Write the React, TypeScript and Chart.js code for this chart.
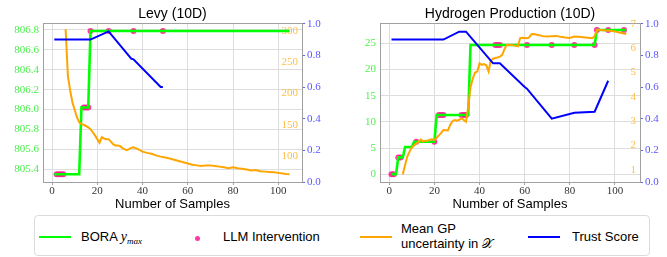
import React, { useEffect, useRef } from 'react';
import { Chart, registerables } from 'chart.js';

Chart.register(...registerables);

// ---------- Shared ----------
const sampleTicks = [0, 20, 40, 60, 80, 100];
const trustTicks = [0, 0.2, 0.4, 0.6, 0.8, 1.0];

// ---------- Levy (10D) ----------
const levyBestX = [1, 12, 13, 16, 17, 105];
const levyBestY = [805.35, 805.35, 806.02, 806.02, 806.79, 806.79];
const levyLlmX = [2, 3, 4, 5, 14, 15, 16, 17, 25, 36, 49];
const levyLlmY = [805.35, 805.35, 805.35, 805.35, 806.02, 806.02, 806.02, 806.79, 806.79, 806.79, 806.79];
const levyUncX = [6, 7, 8, 9, 10, 11, 12, 13, 14, 15, 16, 17, 18, 19, 20, 21, 22, 23, 24, 25, 26, 27, 28, 29, 30, 31, 32, 33, 34, 35, 36, 38, 40, 42, 44, 46, 48, 50, 52, 54, 56, 58, 60, 62, 64, 66, 68, 70, 72, 74, 76, 78, 80, 82, 84, 86, 88, 90, 92, 94, 96, 98, 100, 102, 104, 105];
const levyUncY = [303, 228, 205, 186, 174, 162, 154, 151, 150, 148, 146, 143, 138, 133, 127, 121, 130, 128, 127, 127, 123, 119, 117, 117, 116, 113, 111, 109.5, 111, 113, 114, 111, 107, 105, 103.5, 101, 99, 97.5, 96, 94, 92, 90, 88, 86, 85, 84, 85, 85, 84, 83, 82, 80.5, 82, 80.5, 79.5, 78.5, 77, 77.5, 75.5, 75, 74.5, 74, 73, 72, 71, 70.7];
const levyTrustX = [1, 17, 25, 35, 36, 48, 49];
const levyTrustY = [0.9, 0.9, 0.952, 0.78, 0.775, 0.6, 0.6];
const levyBestTicks = [805.4, 805.6, 805.8, 806.0, 806.2, 806.4, 806.6, 806.8];
const levyUncTicks = [100, 150, 200, 250, 300];

// ---------- Hydrogen Production (10D) ----------
const h2BestX = [1, 3, 4, 6, 7, 10, 11, 20, 21, 35, 36, 91, 92, 105];
const h2BestY = [0, 0, 3.2, 3.2, 5.2, 5.2, 6.2, 6.2, 11.3, 11.3, 24.7, 24.7, 27.55, 27.55];
const h2LlmX = [1, 2, 4, 5, 12, 20, 22, 23, 24, 32, 33, 34, 47, 48, 49, 61, 72, 82, 91, 92, 97, 104];
const h2LlmY = [0, 0, 3.2, 3.2, 6.2, 6.2, 11.3, 11.3, 11.3, 11.3, 11.3, 11.3, 24.7, 24.7, 24.7, 24.7, 24.7, 24.7, 24.7, 27.55, 27.55, 27.55];
const h2UncX = [6, 7, 8, 9, 10, 11, 12, 13, 14, 15, 16, 17, 18, 19, 20, 21, 22, 23, 24, 25, 26, 27, 28, 29, 30, 31, 32, 33, 34, 35, 36, 37, 38, 39, 40, 41, 42, 43, 44, 45, 46, 47, 48, 49, 50, 51, 52, 53, 54, 55, 56, 57, 58, 59, 60, 61, 62, 63, 64, 66, 68, 70, 72, 74, 76, 78, 80, 82, 84, 86, 88, 90, 91, 92, 94, 96, 98, 100, 102, 104, 105];
const h2UncY = [0.82, 1.2, 1.55, 1.75, 1.92, 2.0, 2.08, 2.15, 2.25, 2.16, 2.2, 2.2, 2.24, 2.26, 2.23, 2.32, 2.42, 2.52, 2.64, 2.63, 2.62, 2.85, 3.0, 3.05, 3.02, 3.06, 3.12, 3.05, 2.98, 3.6, 4.4, 4.75, 5.0, 5.04, 5.38, 5.32, 5.35, 5.3, 5.05, 5.5, 5.57, 5.6, 5.62, 5.66, 5.72, 5.95, 6.14, 6.14, 6.14, 6.12, 6.1, 6.08, 6.42, 6.43, 6.42, 6.41, 6.45, 6.58, 6.59, 6.55, 6.5, 6.48, 6.5, 6.51, 6.47, 6.44, 6.42, 6.48, 6.47, 6.45, 6.43, 6.41, 6.5, 6.75, 6.75, 6.73, 6.72, 6.69, 6.65, 6.61, 6.59];
const h2TrustX = [1, 24, 31, 34, 46, 49, 60, 61, 72, 82, 91, 97];
const h2TrustY = [0.9, 0.9, 0.95, 0.95, 0.75, 0.75, 0.6, 0.59, 0.4, 0.437, 0.444, 0.64];
const h2BestTicks = [0, 5, 10, 15, 20, 25];
const h2UncTicks = [1, 2, 3, 4, 5, 6, 7];

const GREEN = '#00ff00';
const ORANGE = '#ffa500';
const BLUE = '#0000ff';
const PINK = 'rgba(255,20,147,0.85)';
const SPINE = '#a0a0a0';
const GRID = '#dddddd';
const SERIF = "'Liberation Serif', 'DejaVu Serif', serif";
const SANS = "'Liberation Sans', 'DejaVu Sans', sans-serif";

const zip = (xs: number[], ys: number[]) => xs.map((x, i) => ({ x, y: ys[i] }));

type Panel = {
  title: string;
  width: number;
  leftW: number;
  rightW: number;
  xMin: number;
  xMax: number;
  bestX: number[]; bestY: number[];
  llmX: number[]; llmY: number[];
  uncX: number[]; uncY: number[];
  trustX: number[]; trustY: number[];
  bestMin: number; bestMax: number; bestTicks: number[]; bestDec: number;
  uncMin: number; uncMax: number; uncTicks: number[];
};

const setTicks = (vals: number[]) => (scale: any) => {
  scale.ticks = vals.map((v) => ({ value: v }));
};

function makeConfig(p: Panel): any {
  const tickFont = { family: SERIF, size: 11 };
  return {
    type: 'line',
    data: {
      datasets: [
        {
          label: 'Trust Score', data: zip(p.trustX, p.trustY), yAxisID: 'y2',
          borderColor: BLUE, borderWidth: 2, pointRadius: 0, tension: 0, order: 0,
        },
        {
          label: 'Mean GP uncertainty', data: zip(p.uncX, p.uncY), yAxisID: 'y1',
          borderColor: ORANGE, borderWidth: 2, pointRadius: 0, tension: 0, order: 1,
        },
        {
          label: 'BORA ymax', data: zip(p.bestX, p.bestY), yAxisID: 'y',
          borderColor: GREEN, borderWidth: 2.6, pointRadius: 0, tension: 0, order: 2,
        },
        {
          label: 'LLM Intervention', data: zip(p.llmX, p.llmY), yAxisID: 'y',
          showLine: false, pointRadius: 3, pointBackgroundColor: PINK, pointBorderWidth: 0,
          borderColor: PINK, order: 3,
        },
      ],
    },
    options: {
      animation: false,
      responsive: false,
      maintainAspectRatio: false,
      events: [],
      layout: { padding: 0 },
      plugins: {
        legend: { display: false },
        tooltip: { enabled: false },
        title: {
          display: true, text: p.title, fullSize: false, color: '#000',
          font: { family: SANS, size: 14, weight: 'normal' },
          padding: { top: 6.2, bottom: 0 },
        },
      },
      scales: {
        x: {
          type: 'linear', position: 'bottom', min: p.xMin, max: p.xMax,
          afterBuildTicks: setTicks(sampleTicks),
          afterFit: (s: any) => { s.height = 30; },
          grid: { color: GRID, tickColor: SPINE, tickLength: 3, drawTicks: true },
          border: { color: SPINE, width: 1 },
          ticks: { font: tickFont, color: '#333', padding: 0, maxRotation: 0, callback: (v: any) => String(v) },
          title: {
            display: true, text: 'Number of Samples', color: '#000',
            font: { family: SANS, size: 13 }, padding: { top: 0, bottom: 0 },
          },
        },
        xTop: {
          type: 'linear', position: 'top', min: 0, max: 1,
          afterFit: (s: any) => { s.height = 0; },
          grid: { display: true, drawOnChartArea: false, drawTicks: false },
          border: { color: SPINE, width: 1 },
          ticks: { display: false },
        },
        y: {
          type: 'linear', position: 'left', min: p.bestMin, max: p.bestMax,
          afterBuildTicks: setTicks(p.bestTicks),
          afterFit: (s: any) => { s.width = p.leftW; },
          grid: { color: GRID, drawTicks: false },
          border: { color: SPINE, width: 1 },
          ticks: { font: tickFont, color: '#4cf04c', padding: 4, callback: (v: any) => Number(v).toFixed(p.bestDec) },
        },
        y1: {
          type: 'linear', position: 'right', weight: 0, min: p.uncMin, max: p.uncMax,
          afterBuildTicks: setTicks(p.uncTicks),
          afterFit: (s: any) => { s.width = 0; },
          grid: { display: false },
          border: { display: false },
          ticks: { font: tickFont, color: '#ffbd45', mirror: true, padding: -4, callback: (v: any) => String(v) },
        },
        y2: {
          type: 'linear', position: 'right', weight: 1, min: 0, max: 1.005,
          afterBuildTicks: setTicks(trustTicks),
          afterFit: (s: any) => { s.width = p.rightW; },
          grid: { display: true, drawOnChartArea: false, drawTicks: true, tickLength: 3, tickColor: '#6060ff' },
          border: { color: SPINE, width: 1 },
          ticks: { font: tickFont, color: '#5858ff', padding: 2, callback: (v: any) => Number(v).toFixed(1) },
        },
      },
    },
  };
}

const levyPanel: Panel = {
  title: 'Levy (10D)', width: 333, leftW: 43, rightW: 31, xMin: -4, xMax: 110.5,
  bestX: levyBestX, bestY: levyBestY, llmX: levyLlmX, llmY: levyLlmY,
  uncX: levyUncX, uncY: levyUncY, trustX: levyTrustX, trustY: levyTrustY,
  bestMin: 805.272, bestMax: 806.87, bestTicks: levyBestTicks, bestDec: 1,
  uncMin: 58.4, uncMax: 312.8, uncTicks: levyUncTicks,
};

const h2Panel: Panel = {
  title: 'Hydrogen Production (10D)', width: 334, leftW: 47, rightW: 27, xMin: -4.1, xMax: 111.1,
  bestX: h2BestX, bestY: h2BestY, llmX: h2LlmX, llmY: h2LlmY,
  uncX: h2UncX, uncY: h2UncY, trustX: h2TrustX, trustY: h2TrustY,
  bestMin: -1.5, bestMax: 28.9, bestTicks: h2BestTicks, bestDec: 0,
  uncMin: 0.5, uncMax: 7.04, uncTicks: h2UncTicks,
};

function ChartPanel({ panel, left }: { panel: Panel; left: number }) {
  const ref = useRef<HTMLCanvasElement | null>(null);
  useEffect(() => {
    if (!ref.current) return;
    const chart = new Chart(ref.current, makeConfig(panel));
    return () => chart.destroy();
  }, [panel]);
  return (
    <canvas
      ref={ref}
      width={panel.width}
      height={212}
      style={{ position: 'absolute', left, top: 0, width: panel.width, height: 212 }}
    />
  );
}

function LegendLine({ x, color }: { x: number; color: string }) {
  return <div style={{ position: 'absolute', left: x - 35, top: 20, width: 32, height: 2, background: color }} />;
}

export default function App() {
  const txt: React.CSSProperties = { position: 'absolute', whiteSpace: 'nowrap', lineHeight: '15px' };
  return (
    <div style={{ position: 'fixed', left: 0, top: 0, width: 667, height: 257, background: '#fff', overflow: 'hidden' }}>
      <ChartPanel panel={levyPanel} left={0} />
      <ChartPanel panel={h2Panel} left={333} />
      <div
        style={{
          position: 'absolute', left: 34, top: 215, width: 616, height: 41, boxSizing: 'border-box',
          border: '1px solid #dcdcdc', borderRadius: 4, background: '#fff',
          fontFamily: SANS, fontSize: 13, color: '#000',
        }}
      >
        <LegendLine x={39} color={GREEN} />
        <div style={{ ...txt, left: 81 - 35, top: 13 }}>
          BORA{' '}
          <span style={{ fontFamily: SERIF, fontStyle: 'italic', fontSize: 14 }}>
            y<sub style={{ fontSize: 9, verticalAlign: '-3px' }}>max</sub>
          </span>
        </div>
        <div style={{ position: 'absolute', left: 197 - 35 - 2.5, top: 21 - 2.5 + 1, width: 5, height: 5, borderRadius: '50%', background: PINK }} />
        <div style={{ ...txt, left: 223 - 35, top: 13 }}>LLM Intervention</div>
        <LegendLine x={360} color={ORANGE} />
        <div style={{ ...txt, left: 401 - 35, top: 5 }}>
          Mean GP<br />uncertainty in <span style={{ fontFamily: 'DejaVu Serif, DejaVu Sans, serif' }}>𝒳</span>
        </div>
        <LegendLine x={528} color={BLUE} />
        <div style={{ ...txt, left: 572 - 35, top: 13 }}>Trust Score</div>
      </div>
    </div>
  );
}
